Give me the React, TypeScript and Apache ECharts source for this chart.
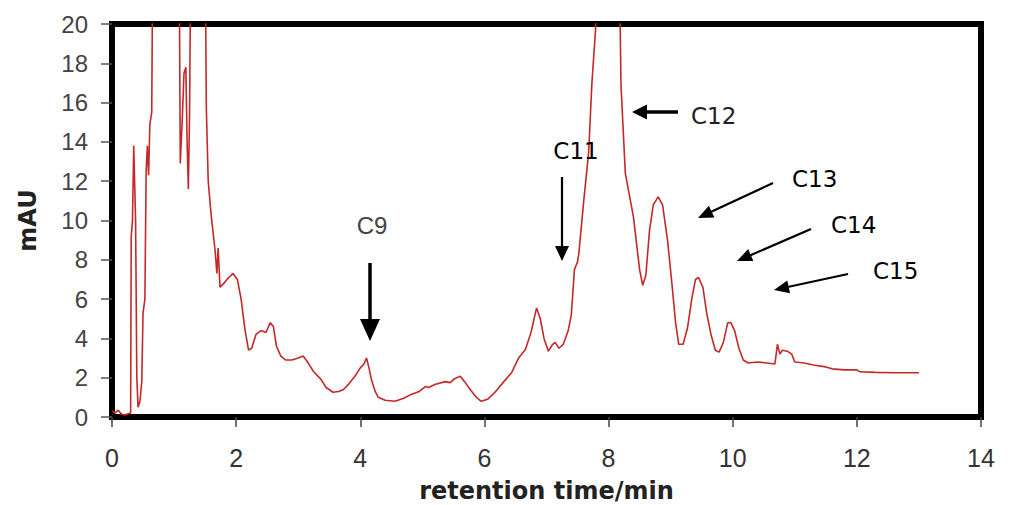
import React, { useEffect, useRef } from "react";
import * as echarts from "echarts";

// retention time (min)
const retentionTime: number[] = [
  0.0, 0.05, 0.1, 0.15, 0.2, 0.3, 0.31, 0.33, 0.35, 0.38, 0.4, 0.42, 0.45, 0.48, 0.5, 0.53, 0.55, 0.57, 0.59, 0.61,
  0.64, 0.66, 1.08, 1.1, 1.13, 1.16, 1.19, 1.21, 1.23, 1.25, 1.27, 1.5, 1.52, 1.55, 1.6, 1.66, 1.69, 1.71, 1.74, 1.8,
  1.88, 1.95, 2.02, 2.08, 2.14, 2.2, 2.25, 2.32, 2.4, 2.48, 2.55, 2.6, 2.65, 2.72, 2.8, 2.9, 3.0, 3.08, 3.15, 3.25,
  3.37, 3.45, 3.56, 3.65, 3.73, 3.82, 3.92, 4.0, 4.06, 4.1, 4.14, 4.18, 4.24, 4.29, 4.4, 4.56, 4.7, 4.82, 4.95, 5.05,
  5.1, 5.2, 5.37, 5.45, 5.52, 5.61, 5.68, 5.77, 5.87, 5.95, 6.05, 6.17, 6.3, 6.44, 6.55, 6.66, 6.75, 6.84, 6.9, 6.96,
  7.03, 7.1, 7.14, 7.2, 7.27, 7.35, 7.4, 7.45, 7.5, 7.52, 7.6, 7.68, 7.73, 7.79, 7.82, 8.17, 8.2, 8.27, 8.4, 8.5,
  8.55, 8.6, 8.66, 8.72, 8.8, 8.87, 8.95, 9.02, 9.08, 9.13, 9.2, 9.27, 9.34, 9.4, 9.45, 9.52, 9.58, 9.65, 9.72, 9.78,
  9.85, 9.92, 9.97, 10.03, 10.1, 10.17, 10.25, 10.4, 10.55, 10.68, 10.72, 10.76, 10.8, 10.88, 10.95, 11.0, 11.15, 11.3, 11.5, 11.6,
  11.8, 12.0, 12.05, 12.3, 12.6, 13.0,
];

// absorbance (mAU)
const absorbance: number[] = [
  0.3, 0.2, 0.35, 0.15, 0.1, 0.2, 9.2, 10.0, 13.8, 10.0, 2.0, 0.5, 0.8, 1.8, 5.3, 6.0, 12.5, 13.8, 12.3, 14.9,
  15.5, 25, 25, 12.9, 15.0, 17.5, 17.8, 14.0, 11.6, 15.5, 24, 24, 15.7, 12.0, 10.2, 8.5, 7.3, 8.6, 6.6, 6.8,
  7.1, 7.3, 7.0, 6.0, 4.5, 3.4, 3.5, 4.2, 4.4, 4.3, 4.8, 4.6, 3.6, 3.1, 2.9, 2.9, 3.0, 3.1, 2.8, 2.3,
  1.9, 1.5, 1.26, 1.3, 1.4, 1.7, 2.1, 2.5, 2.7, 3.0, 2.5, 1.9, 1.3, 1.0, 0.85, 0.8, 0.95, 1.15, 1.3, 1.55,
  1.5, 1.65, 1.8, 1.75, 1.95, 2.07, 1.8, 1.4, 1.0, 0.8, 0.9, 1.26, 1.75, 2.27, 3.0, 3.43, 4.3, 5.55, 5.0, 4.0,
  3.35, 3.7, 3.8, 3.5, 3.7, 4.4, 5.2, 7.5, 7.9, 8.3, 11.0, 13.5, 16.9, 19.7, 24, 24, 16.9, 12.4, 10.2, 7.5,
  6.7, 7.2, 9.5, 10.8, 11.2, 10.8, 9.0, 6.8, 4.8, 3.7, 3.7, 4.5, 6.0, 7.0, 7.1, 6.6, 5.3, 4.2, 3.4, 3.3,
  3.8, 4.8, 4.8, 4.4, 3.5, 2.9, 2.75, 2.8, 2.75, 2.7, 3.7, 3.2, 3.4, 3.35, 3.2, 2.8, 2.75, 2.65, 2.55, 2.45,
  2.4, 2.4, 2.3, 2.27, 2.25, 2.25,
];

const xTicks: number[] = [0, 2, 4, 6, 8, 10, 12, 14];
const yTicks: number[] = [0, 2, 4, 6, 8, 10, 12, 14, 16, 18, 20];

const peakLabels: string[] = ["C9", "C11", "C12", "C13", "C14", "C15"];

function arrow(x1: number, y1: number, x2: number, y2: number, lw: number, hl: number, hw: number): any[] {
  const dx = x2 - x1;
  const dy = y2 - y1;
  const len = Math.sqrt(dx * dx + dy * dy);
  const ux = dx / len;
  const uy = dy / len;
  const bx = x2 - ux * hl;
  const by = y2 - uy * hl;
  const px = -uy * hw;
  const py = ux * hw;
  return [
    {
      type: "line",
      shape: { x1, y1, x2: bx + ux * 1, y2: by + uy * 1 },
      style: { stroke: "#000", lineWidth: lw },
      z: 100,
    },
    {
      type: "polygon",
      shape: { points: [[x2, y2], [bx + px, by + py], [bx - px, by - py]] },
      style: { fill: "#000" },
      z: 100,
    },
  ];
}

export default function App() {
  const ref = useRef<HTMLDivElement>(null);
  useEffect(() => {
    if (!ref.current) return;
    const chart = echarts.init(ref.current, null, { renderer: "svg" });
    const data = retentionTime.map((t, i) => [t, absorbance[i]]);
    const arial = "'Liberation Sans', Arial, sans-serif";
    const verdana = "'DejaVu Sans', Verdana, sans-serif";
    chart.setOption({
      animation: false,
      backgroundColor: "#fff",
      grid: {
        left: 112,
        right: 28,
        top: 24,
        bottom: 88,
        outerBoundsMode: "none",
        containLabel: false,
        show: true,
        borderColor: "#000",
        borderWidth: 6,
        backgroundColor: "transparent",
      },
      xAxis: {
        type: "value",
        min: xTicks[0],
        max: xTicks[xTicks.length - 1],
        interval: 2,
        name: "retention time/min",
        nameLocation: "middle",
        nameGap: 62,
        nameTextStyle: { fontFamily: verdana, fontWeight: "bold", fontSize: 24, color: "#222" },
        axisLine: { show: false },
        axisTick: { show: true, length: 10, lineStyle: { color: "#444", width: 1.5 } },
        axisLabel: { margin: 28, fontFamily: arial, fontSize: 25, color: "#333" },
        splitLine: { show: false },
      },
      yAxis: {
        type: "value",
        min: yTicks[0],
        max: yTicks[yTicks.length - 1],
        interval: 2,
        name: "mAU",
        nameLocation: "middle",
        nameGap: 72,
        nameRotate: 90,
        nameTextStyle: { fontFamily: verdana, fontWeight: "bold", fontSize: 24, color: "#222" },
        axisLine: { show: false },
        axisTick: { show: true, length: 11, lineStyle: { color: "#555", width: 1.5 } },
        axisLabel: { margin: 24, fontFamily: arial, fontSize: 24, color: "#444" },
        splitLine: { show: false },
      },
      series: [
        {
          type: "line",
          data,
          showSymbol: false,
          symbol: "none",
          clip: true,
          lineStyle: { color: "#c42828", width: 1.6 },
          z: 5,
        },
      ],
      graphic: [
        { type: "text", x: 372, y: 225, style: { text: peakLabels[0], fontFamily: arial, fontSize: 24, fill: "#444", align: "center", verticalAlign: "middle" }, z: 100 },
        ...arrow(370, 263, 370, 341, 3.5, 22, 10),
        { type: "text", x: 576, y: 151, style: { text: peakLabels[1], fontFamily: verdana, fontSize: 23, fill: "#000", align: "center", verticalAlign: "middle" }, z: 100 },
        ...arrow(562, 177, 562, 261, 2.2, 15, 7),
        { type: "text", x: 691, y: 116, style: { text: peakLabels[2], fontFamily: verdana, fontSize: 23, fill: "#222", align: "left", verticalAlign: "middle" }, z: 100 },
        ...arrow(678, 112, 632, 112, 3.5, 15, 7.5),
        { type: "text", x: 792, y: 179, style: { text: peakLabels[3], fontFamily: verdana, fontSize: 23, fill: "#000", align: "left", verticalAlign: "middle" }, z: 100 },
        ...arrow(773, 183, 698, 218, 2.2, 15, 6.5),
        { type: "text", x: 831, y: 225, style: { text: peakLabels[4], fontFamily: verdana, fontSize: 23, fill: "#000", align: "left", verticalAlign: "middle" }, z: 100 },
        ...arrow(811, 229, 737, 261, 2.2, 15, 6.5),
        { type: "text", x: 873, y: 271, style: { text: peakLabels[5], fontFamily: verdana, fontSize: 23, fill: "#000", align: "left", verticalAlign: "middle" }, z: 100 },
        ...arrow(848, 274, 774, 290, 2.2, 15, 6.5),
      ],
    });
    return () => chart.dispose();
  }, []);
  return <div ref={ref} style={{ position: "fixed", left: 0, top: 0, width: 1009, height: 505 }} />;
}
